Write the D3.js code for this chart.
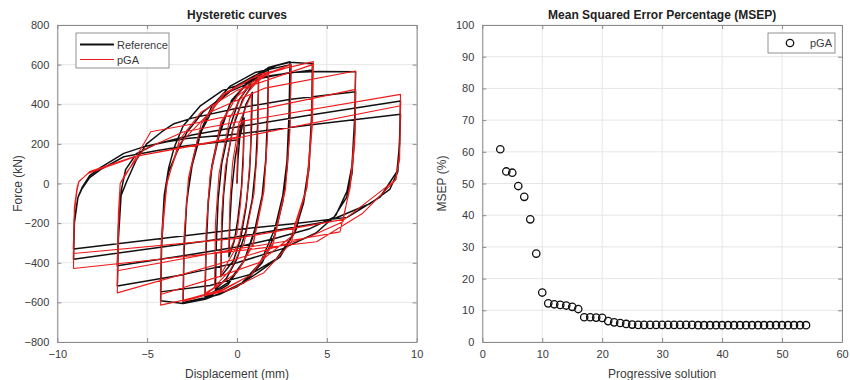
<!DOCTYPE html>
<html><head><meta charset="utf-8">
<script src="https://cdn.jsdelivr.net/npm/d3@7/dist/d3.min.js"></script>
<style>
body{margin:0;background:#fff;}
text{font-family:"Liberation Sans",Arial,Helvetica,sans-serif;}
</style></head>
<body><svg id="c" width="850" height="380"></svg>
<script>
// ---------- DATA ----------
const dispTicks = [-10,-5,0,5,10];
const forceTicks = [-800,-600,-400,-200,0,200,400,600,800];
const solTicks = [0,10,20,30,40,50,60];
const msepTicks = [0,10,20,30,40,50,60,70,80,90,100];

// Reference hysteretic path [displacement (mm), force (kN)]
const referencePath = [
[0,0],[0.05,120],[0.15,230],[0.4,330],
[0.35,150],[0.25,-20],[0.05,-180],[-0.15,-290],[-0.45,-370],
[-0.4,-200],[-0.3,-40],[-0.1,130],[0.2,290],[0.5,400],[0.85,460],
[0.8,260],[0.7,60],[0.5,-120],[0.2,-280],[-0.2,-390],[-0.9,-470],
[-0.85,-260],[-0.75,-60],[-0.55,120],[-0.2,290],[0.3,420],[0.8,490],[1.2,525],
[1.15,300],[1.05,100],[0.85,-80],[0.5,-240],[0,-380],[-0.6,-480],[-1.2,-535],
[-1.15,-300],[-1.05,-80],[-0.85,100],[-0.45,270],[0.1,420],[0.8,510],[1.75,585],
[1.7,340],[1.6,120],[1.4,-60],[1.0,-230],[0.4,-390],[-0.5,-510],[-1.78,-584],
[-1.72,-330],[-1.6,-100],[-1.4,80],[-1.0,240],[-0.4,400],[0.5,500],[1.75,575],
[1.7,330],[1.6,110],[1.4,-70],[1.0,-240],[0.4,-390],[-0.5,-500],[-1.78,-575],
[-1.72,-320],[-1.6,-90],[-1.4,90],[-1.0,260],[-0.3,420],[0.7,520],[1.75,585],[2.95,615],
[2.9,360],[2.78,110],[2.55,-60],[2.1,-230],[1.3,-400],[0.3,-500],[-1.0,-560],[-3.0,-606],
[-2.95,-350],[-2.8,-100],[-2.55,80],[-2.1,250],[-1.4,390],[-0.4,490],[1.0,560],[3.0,600],
[2.95,340],[2.8,90],[2.55,-90],[2.1,-260],[1.4,-400],[0.4,-500],[-1.0,-560],[-3.0,-600],
[-2.95,-340],[-2.8,-90],[-2.5,90],[-2.0,260],[-1.2,400],[0,495],[1.2,555],[2.2,595],[2.95,612],[4.2,605],
[4.15,340],[4.0,90],[3.75,-60],[3.3,-230],[2.4,-370],[1.1,-454],[0,-521],[-1.78,-584],[-3.0,-606],[-4.25,-592],
[-4.2,-330],[-4.05,-80],[-3.8,60],[-3.34,160],[-2.78,260],[-1.9,360],[-0.5,460],[1.5,540],[4.2,573],
[4.15,320],[4.0,70],[3.7,-100],[3.2,-250],[2.2,-380],[0.7,-460],[-1.5,-515],[-4.25,-547],
[-4.2,-300],[-4.05,-60],[-3.8,80],[-3.5,180],[-3.0,290],[-2.06,390],[-0.8,470],[1.0,525],[2.95,560],[4.5,565],[6.6,564],
[6.55,330],[6.4,90],[6.12,-40],[5.5,-160],[4.4,-250],[2.5,-330],[0,-400],[-3.0,-460],[-6.66,-517],
[-6.6,-280],[-6.45,-60],[-6.14,10],[-5.6,120],[-5.03,200],[-4.2,260],[-3.55,300],[-2.5,330],[0,380],[3.0,425],[6.6,463],
[6.55,260],[6.4,50],[6.1,-70],[5.4,-170],[4.0,-230],[2.0,-280],[0,-320],[-3.0,-365],[-6.66,-415],
[-6.6,-220],[-6.45,-40],[-6.2,70],[-5.6,150],[-4.5,200],[-2.5,245],[0,285],[4.0,345],[9.1,416],
[9.05,230],[8.95,60],[8.5,-30],[7.42,-101],[5.0,-193],[0,-269],[-9.1,-382],
[-9.05,-200],[-8.85,-70],[-8.62,-20],[-8.2,40],[-7.6,80],[-6.3,152],[-5.2,185],[-3.9,211],[-2.8,227],[0,250],[4.5,300],[9.1,350],
[9.05,200],[8.9,60],[8.54,10],[7.98,-67],[6.13,-171],[3.0,-205],[0,-232],[-9.1,-330],
[-9.05,-180],[-8.85,-70],[-8.62,-25],[-8.2,30],[-7.6,70],[-6.3,135],[-4.5,165],[-2.8,190],[0,219]
];

// pGA identified hysteretic path [displacement (mm), force (kN)]
const pgaPath = [
[0,0],[0.03,200],[0.1,290],[0.4,320],
[0.35,100],[0.2,-100],[0,-250],[-0.45,-350],
[-0.4,-100],[-0.25,100],[0.1,300],[0.8,450],
[0.75,150],[0.55,-80],[0.1,-300],[-0.9,-460],
[-0.85,-150],[-0.65,80],[-0.1,330],[0.5,450],[1.2,520],
[1.15,200],[0.95,-50],[0.4,-300],[-0.4,-440],[-1.25,-520],
[-1.2,-200],[-1.0,50],[-0.4,330],[0.5,480],[1.75,560],
[1.7,250],[1.5,-30],[0.9,-300],[0,-450],[-1.78,-560],
[-1.72,-250],[-1.5,30],[-0.9,300],[0,440],[1.75,555],
[1.7,240],[1.5,-40],[0.9,-310],[0,-450],[-1.78,-555],
[-1.72,-240],[-1.5,40],[-0.9,310],[0.3,480],[1.5,550],[3.0,600],
[2.95,280],[2.7,-20],[2.0,-300],[0.8,-460],[-0.8,-540],[-3.0,-595],
[-2.95,-280],[-2.7,20],[-2.0,300],[-0.8,450],[0.8,530],[3.0,590],
[2.95,270],[2.7,-30],[2.0,-310],[0.8,-460],[-0.8,-535],[-3.0,-590],
[-2.95,-270],[-2.7,30],[-2.0,300],[-0.7,450],[1.2,550],[4.25,615],
[4.2,300],[3.9,-20],[3.0,-300],[1.5,-450],[-0.5,-540],[-4.25,-614],
[-4.2,-300],[-3.9,0],[-3.2,220],[-2.0,360],[0,470],[4.2,600],
[4.15,280],[3.85,-30],[3.0,-270],[1.2,-400],[-1.0,-470],[-4.25,-560],
[-4.2,-260],[-3.9,10],[-3.2,200],[-1.5,360],[1.5,480],[6.6,568],
[6.55,250],[6.3,0],[5.9,-193],[4.0,-270],[0,-380],[-6.66,-552],
[-6.6,-250],[-6.5,0],[-6.2,42],[-4.8,261],[-2.78,295],[0,350],[6.6,475],
[6.55,200],[6.3,-20],[5.73,-244],[3.5,-280],[0,-330],[-6.66,-440],
[-6.6,-150],[-6.5,0],[-6.2,50],[-5.2,170],[-3.0,260],[0,310],[9.1,450],
[9.05,150],[8.85,20],[7.0,-150],[4.43,-294],[0,-340],[-9.1,-429],
[-9.05,-150],[-8.9,-33],[-8.8,8],[-8.2,60],[-5.75,135],[0,230],[9.1,392],
[9.05,120],[8.8,17],[6.0,-180],[0,-277],[-9.1,-353],
[-9.05,-120],[-8.9,-20],[-8.8,10],[-8.3,50],[-5.5,140],[0,235]
];

// MSEP per progressive solution
const solution = [3,4,5,6,7,8,9,10,11,12,13,14,15,16,17,18,19,20,21,22,23,24,25,26,27,28,29,30,31,32,33,34,35,36,37,38,39,40,41,42,43,44,45,46,47,48,49,50,51,52,53,54];
const msep = [60.8,53.8,53.4,49.2,45.8,38.7,27.9,15.6,12.2,11.9,11.7,11.5,11.1,10.4,7.8,7.8,7.7,7.6,6.6,6.2,6.0,5.7,5.5,5.4,5.4,5.4,5.4,5.4,5.4,5.4,5.4,5.4,5.4,5.3,5.3,5.3,5.3,5.3,5.3,5.3,5.3,5.3,5.3,5.3,5.3,5.3,5.3,5.3,5.3,5.3,5.3,5.3];

// ---------- DRAW ----------
const svg = d3.select("#c");
const axisCol = "#8a8a8a", gridCol = "#e6e6e6", txtCol = "#3a3a3a";
const redCol = "#f01a1a";

function frame(x, y, xt, yt, title, xlab, ylab, ylabX, clipId){
  const [x0,x1] = x.range(), [y0,y1] = y.range();
  const g = svg.append("g");
  g.selectAll(".gx").data(xt).join("line")
    .attr("x1",d=>x(d)).attr("x2",d=>x(d)).attr("y1",y0).attr("y2",y1)
    .attr("stroke",gridCol).attr("stroke-width",1);
  g.selectAll(".gy").data(yt).join("line")
    .attr("y1",d=>y(d)).attr("y2",d=>y(d)).attr("x1",x0).attr("x2",x1)
    .attr("stroke",gridCol).attr("stroke-width",1);
  const ax = d3.axisBottom(x).tickValues(xt).tickSizeInner(-4).tickSizeOuter(0).tickPadding(8);
  const ay = d3.axisLeft(y).tickValues(yt).tickSizeInner(-4).tickSizeOuter(0).tickPadding(8);
  const axT = d3.axisTop(x).tickValues(xt).tickSizeInner(-4).tickSizeOuter(0).tickFormat("");
  const ayR = d3.axisRight(y).tickValues(yt).tickSizeInner(-4).tickSizeOuter(0).tickFormat("");
  const style = s => { s.select(".domain").attr("stroke",axisCol);
    s.selectAll(".tick line").attr("stroke",axisCol);
    s.selectAll(".tick text").attr("fill",txtCol).style("font-size","11px").style("font-family",'"Liberation Sans",Arial,sans-serif'); };
  g.append("g").attr("transform",`translate(0,${y0})`).call(ax).call(style);
  g.append("g").attr("transform",`translate(${x0},0)`).call(ay).call(style);
  g.append("g").attr("transform",`translate(0,${y1})`).call(axT).call(style);
  g.append("g").attr("transform",`translate(${x1},0)`).call(ayR).call(style);
  g.append("text").attr("x",(x0+x1)/2).attr("y",y1-6).attr("text-anchor","middle")
    .style("font-size","12px").style("font-weight","bold").attr("fill","#222").text(title);
  g.append("text").attr("x",(x0+x1)/2).attr("y",378).attr("text-anchor","middle")
    .style("font-size","12px").attr("fill",txtCol).text(xlab);
  g.append("text").attr("transform",`translate(${ylabX},${(y0+y1)/2}) rotate(-90)`).attr("text-anchor","middle")
    .style("font-size","12px").attr("fill",txtCol).text(ylab);
  svg.append("clipPath").attr("id",clipId).append("rect")
    .attr("x",x0).attr("y",y1).attr("width",x1-x0).attr("height",y0-y1);
}

// Left: hysteretic curves
const xL = d3.scaleLinear().domain([-10,10]).range([57.3,416.7]);
const yL = d3.scaleLinear().domain([-800,800]).range([342,25]);
frame(xL,yL,dispTicks,forceTicks,"Hysteretic curves","Displacement (mm)","Force (kN)",22,"clipL");
const line = d3.line().x(d=>xL(d[0])).y(d=>yL(d[1])).curve(d3.curveLinear);
const gl = svg.append("g").attr("clip-path","url(#clipL)");
gl.append("path").datum(referencePath).attr("d",line).attr("fill","none")
  .attr("stroke","#111").attr("stroke-width",1.5).attr("stroke-linejoin","round");
gl.append("path").datum(pgaPath).attr("d",line).attr("fill","none")
  .attr("stroke",redCol).attr("stroke-width",1.1).attr("stroke-linejoin","round");

// left legend
const lg = svg.append("g");
lg.append("rect").attr("x",76).attr("y",33).attr("width",93).attr("height",35)
  .attr("fill","#fff").attr("stroke","#777").attr("stroke-width",0.8);
lg.append("line").attr("x1",80).attr("x2",114).attr("y1",44.5).attr("y2",44.5).attr("stroke","#111").attr("stroke-width",1.8);
lg.append("line").attr("x1",80).attr("x2",114).attr("y1",59.5).attr("y2",59.5).attr("stroke",redCol).attr("stroke-width",1.2);
lg.append("text").attr("x",117).attr("y",48.5).style("font-size","11px").attr("fill",txtCol).text("Reference");
lg.append("text").attr("x",117).attr("y",63.5).style("font-size","11px").attr("fill",txtCol).text("pGA");

// Right: MSEP
const xR = d3.scaleLinear().domain([0,60]).range([482.3,842]);
const yR = d3.scaleLinear().domain([0,100]).range([342,25]);
frame(xR,yR,solTicks,msepTicks,"Mean Squared Error Percentage (MSEP)","Progressive solution","MSEP (%)",446,"clipR");
svg.append("g").selectAll("circle").data(solution.map((s,i)=>[s,msep[i]])).join("circle")
  .attr("cx",d=>xR(d[0])).attr("cy",d=>yR(d[1])).attr("r",3.7)
  .attr("fill","none").attr("stroke","#111").attr("stroke-width",1.3);

// right legend
const rg = svg.append("g");
rg.append("rect").attr("x",768).attr("y",33).attr("width",67).attr("height",20)
  .attr("fill","#fff").attr("stroke","#777").attr("stroke-width",0.8);
rg.append("circle").attr("cx",790).attr("cy",43).attr("r",3.7).attr("fill","none").attr("stroke","#111").attr("stroke-width",1.3);
rg.append("text").attr("x",810).attr("y",47).style("font-size","11px").attr("fill",txtCol).text("pGA");
</script></body></html>
